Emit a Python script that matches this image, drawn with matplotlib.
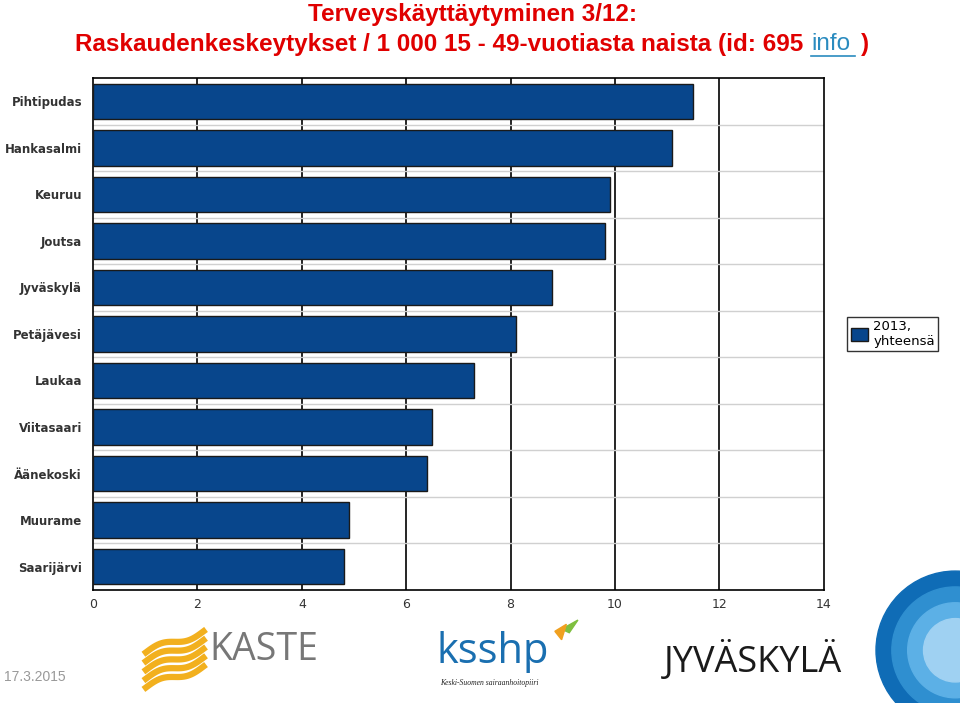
import matplotlib.pyplot as plt
import matplotlib.patches as mpatches
import numpy as np

kunnat = ["Pihtipudas", "Hankasalmi", "Keuruu", "Joutsa", "Jyväskylä", "Petäjävesi",
          "Laukaa", "Viitasaari", "Äänekoski", "Muurame", "Saarijärvi"]
arvot = [11.5, 11.1, 9.9, 9.8, 8.8, 8.1, 7.3, 6.5, 6.4, 4.9, 4.8]
x_ticks = [0, 2, 4, 6, 8, 10, 12, 14]

bar_color = "#08468C"

fig = plt.figure(figsize=(9.6, 7.03), dpi=100)
ax = fig.add_axes([0.097, 0.161, 0.761, 0.728])

y = np.arange(len(kunnat))
bars = ax.barh(y, arvot, height=0.76, color=bar_color, edgecolor="#1a1a1a",
               linewidth=1.0, zorder=3, label="2013,\nyhteensä")
ax.set_ylim(len(kunnat) - 0.5, -0.5)
ax.set_xlim(0, 14)
ax.set_xticks(x_ticks)
ax.set_xticklabels([str(t) for t in x_ticks], fontsize=9)
ax.set_yticks(y)
ax.set_yticklabels(kunnat, fontweight="bold", fontsize=8.5)
ax.tick_params(axis="both", length=0, colors="#333333")
ax.tick_params(axis="x", pad=6)
ax.tick_params(axis="y", pad=8)

for v in x_ticks[1:-1]:
    ax.axvline(v, color="black", linewidth=1.2, zorder=1)
for k in range(len(kunnat) - 1):
    ax.axhline(k + 0.5, color="#d0d0d0", linewidth=1.0, zorder=1)
for s in ax.spines.values():
    s.set_linewidth(1.2)

fig.legend(handles=[bars], loc="center", bbox_to_anchor=(0.93, 0.525),
           frameon=True, fancybox=False, edgecolor="black",
           handlelength=1.3, handleheight=1.1, borderpad=0.25, labelspacing=0.1,
           handletextpad=0.4, prop={"size": 9.5, "family": "DejaVu Sans"})

title_kw = dict(color="#e00000", fontsize=17.5, fontweight="bold", family="Liberation Sans")
fig.text(0.492, 0.980, "Terveyskäyttäytyminen 3/12:", ha="center", va="center", **title_kw)
fig.text(0.078, 0.937, "Raskaudenkeskeytykset / 1 000 15 - 49-vuotiasta naista (id: 695",
         ha="left", va="center", **title_kw)
fig.text(0.845, 0.937, "info", ha="left", va="center", color="#2a8bbf",
         fontsize=17.5, family="Liberation Sans")
fig.add_artist(plt.Line2D([0.845, 0.891], [0.921, 0.921], color="#2a8bbf", linewidth=1.2))
fig.text(0.897, 0.937, ")", ha="left", va="center", **title_kw)

# footer
fig.text(0.004, 0.037, "17.3.2015", ha="left", va="center", color="#999999",
         fontsize=10, family="Liberation Sans")

# KASTE logo
for i in range(5):
    xs = np.linspace(0.152, 0.212, 30)
    ys = 0.022 + i * 0.0125 + (xs - 0.152) * 0.5 + 0.005 * np.sin((xs - 0.152) / 0.06 * 2 * np.pi)
    fig.add_artist(plt.Line2D(xs, ys, color="#f2b01e", linewidth=4.5))
fig.text(0.218, 0.076, "KASTE", ha="left", va="center", color="#777777",
         fontsize=27, family="Open Sans")

# ksshp logo
fig.text(0.455, 0.072, "ksshp", ha="left", va="center", color="#1a6fb0",
         fontsize=30, family="Open Sans")
fig.text(0.51, 0.028, "Keski-Suomen sairaanhoitopiiri", ha="center", va="center",
         color="#222222", fontsize=5.5, style="italic", family="Liberation Serif")
fig.add_artist(mpatches.Polygon([[0.585, 0.105], [0.602, 0.118], [0.593, 0.100]],
                                color="#7fbf3f"))
fig.add_artist(mpatches.Polygon([[0.578, 0.102], [0.590, 0.112], [0.585, 0.090]],
                                color="#f0a020"))

# Jyväskylä logo
fig.text(0.692, 0.060, "JYVÄSKYLÄ", ha="left", va="center", color="#1a1a1a",
         fontsize=26, fontweight="medium", family="Open Sans")
for r, c in zip([0.075, 0.06, 0.045, 0.03], ["#0f6cb6", "#2f8fd0", "#5cb0e6", "#9fd1f2"]):
    fig.add_artist(mpatches.Ellipse((0.995, 0.075), r * 2.2, r * 2.2 * 960 / 703,
                                    color=c))

fig.savefig("out.png", dpi=100)
